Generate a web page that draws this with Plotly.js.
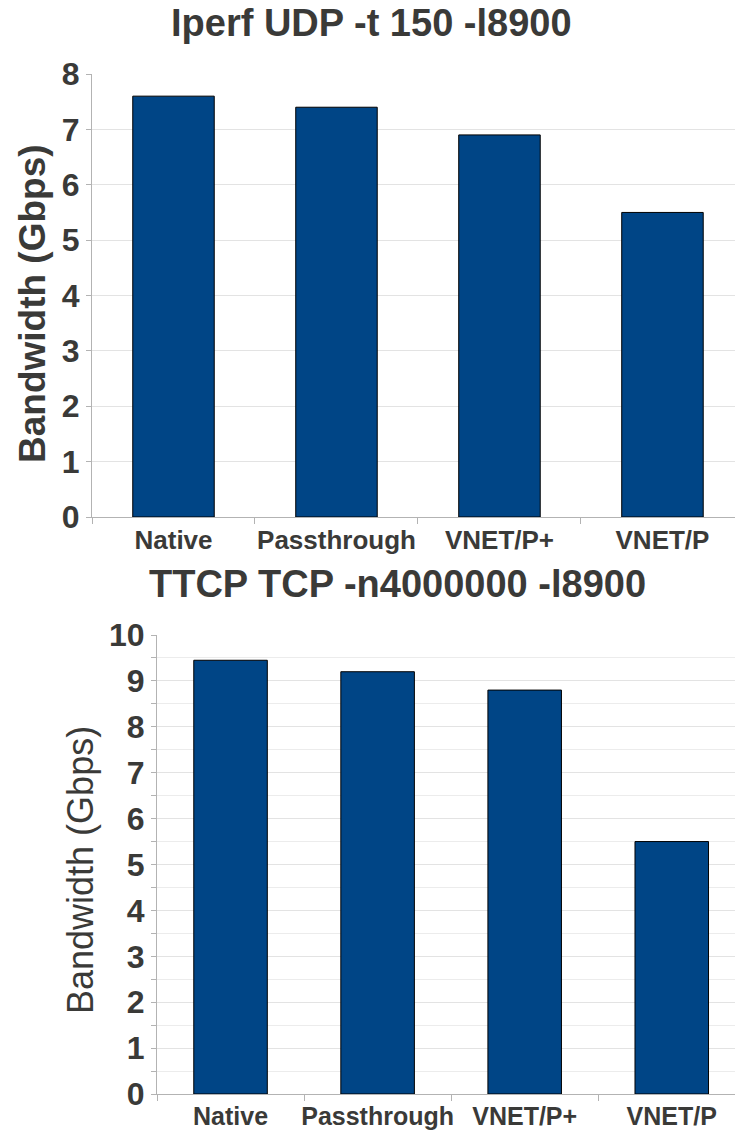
<!DOCTYPE html>
<html>
<head>
<meta charset="utf-8">
<script src="https://cdn.plot.ly/plotly-3.0.1.min.js"></script>
<style>html,body{margin:0;padding:0;background:#fff;}</style>
</head>
<body>
<div id="chart" style="width:735px;height:1133px;"></div>
<script>
const categories = ["Native", "Passthrough", "VNET/P+", "VNET/P"];
const udpValues = [7.6, 7.4, 6.9, 5.5];
const tcpValues = [9.45, 9.2, 8.8, 5.5];
const udpTitle = "Iperf UDP -t 150 -l8900";
const tcpTitle = "TTCP TCP -n4000000 -l8900";
const yTitle = "Bandwidth (Gbps)";

const W = 735, H = 1133;
const txt = "#3a3a38";
const font = "Liberation Sans, Arial, sans-serif";
const barColor = "#004586";

const traces = [
  {type: "bar", x: categories, y: udpValues, xaxis: "x", yaxis: "y", width: 0.5,
   marker: {color: barColor, line: {color: "#000", width: 1}}, hoverinfo: "skip"},
  {type: "bar", x: categories, y: tcpValues, xaxis: "x2", yaxis: "y2", width: 0.5,
   marker: {color: barColor, line: {color: "#000", width: 1}}, hoverinfo: "skip"}
];

const py = p => 1 - p / H;
const px = p => p / W;

const layout = {
  width: W, height: H,
  margin: {l: 0, r: 0, t: 0, b: 0},
  paper_bgcolor: "#fff", plot_bgcolor: "#fff",
  showlegend: false,
  font: {family: font, color: txt},
  xaxis: {
    domain: [px(92), 1], anchor: "y",
    range: [-0.5, 3.445],
    showline: true, linecolor: "#b3b3b3", linewidth: 1,
    ticks: "outside", tickson: "boundaries", ticklen: 6, tickcolor: "#b3b3b3",
    showgrid: false, tickangle: 0,
    tickfont: {family: font, size: 26, color: txt, weight: "bold"}
  },
  yaxis: {
    domain: [py(517), py(74)], anchor: "x",
    range: [0, 8], dtick: 1,
    showline: true, linecolor: "#b3b3b3", linewidth: 1,
    ticks: "outside", ticklen: 5, tickcolor: "#b3b3b3",
    gridcolor: "#e3e3e3", zeroline: false,
    tickfont: {family: font, size: 32, color: txt, weight: "bold"}
  },
  xaxis2: {
    domain: [px(157), 1], anchor: "y2",
    range: [-0.5, 3.43],
    showline: true, linecolor: "#b3b3b3", linewidth: 1,
    ticks: "outside", tickson: "boundaries", ticklen: 6, tickcolor: "#b3b3b3",
    showgrid: false, tickangle: 0,
    tickfont: {family: font, size: 25, color: txt, weight: "bold"}
  },
  yaxis2: {
    domain: [py(1094), py(635)], anchor: "x2",
    range: [0, 10], dtick: 1,
    showline: true, linecolor: "#b3b3b3", linewidth: 1,
    ticks: "outside", ticklen: 5, tickcolor: "#b3b3b3",
    gridcolor: "#e3e3e3", zeroline: false,
    minor: {dtick: 0.5, showgrid: true, gridcolor: "#ececec", ticks: "outside", ticklen: 5, tickcolor: "#b3b3b3"},
    tickfont: {family: font, size: 32, color: txt, weight: "bold"}
  },
  annotations: [
    {text: udpTitle, xref: "paper", yref: "paper", x: px(371), y: py(23), showarrow: false,
     xanchor: "center", yanchor: "middle", font: {family: font, size: 38, color: txt, weight: "bold"}},
    {text: tcpTitle, xref: "paper", yref: "paper", x: px(397), y: py(584), showarrow: false,
     xanchor: "center", yanchor: "middle", font: {family: font, size: 38, color: txt, weight: "bold"}},
    {text: yTitle, xref: "paper", yref: "paper", x: px(33), y: py(304), showarrow: false, textangle: -90,
     xanchor: "center", yanchor: "middle", font: {family: font, size: 37, color: txt, weight: "bold"}},
    {text: yTitle, xref: "paper", yref: "paper", x: px(80), y: py(870), showarrow: false, textangle: -90,
     xanchor: "center", yanchor: "middle", font: {family: font, size: 36, color: txt}}
  ]
};

Plotly.newPlot("chart", traces, layout, {staticPlot: true, displayModeBar: false});
</script>
</body>
</html>
